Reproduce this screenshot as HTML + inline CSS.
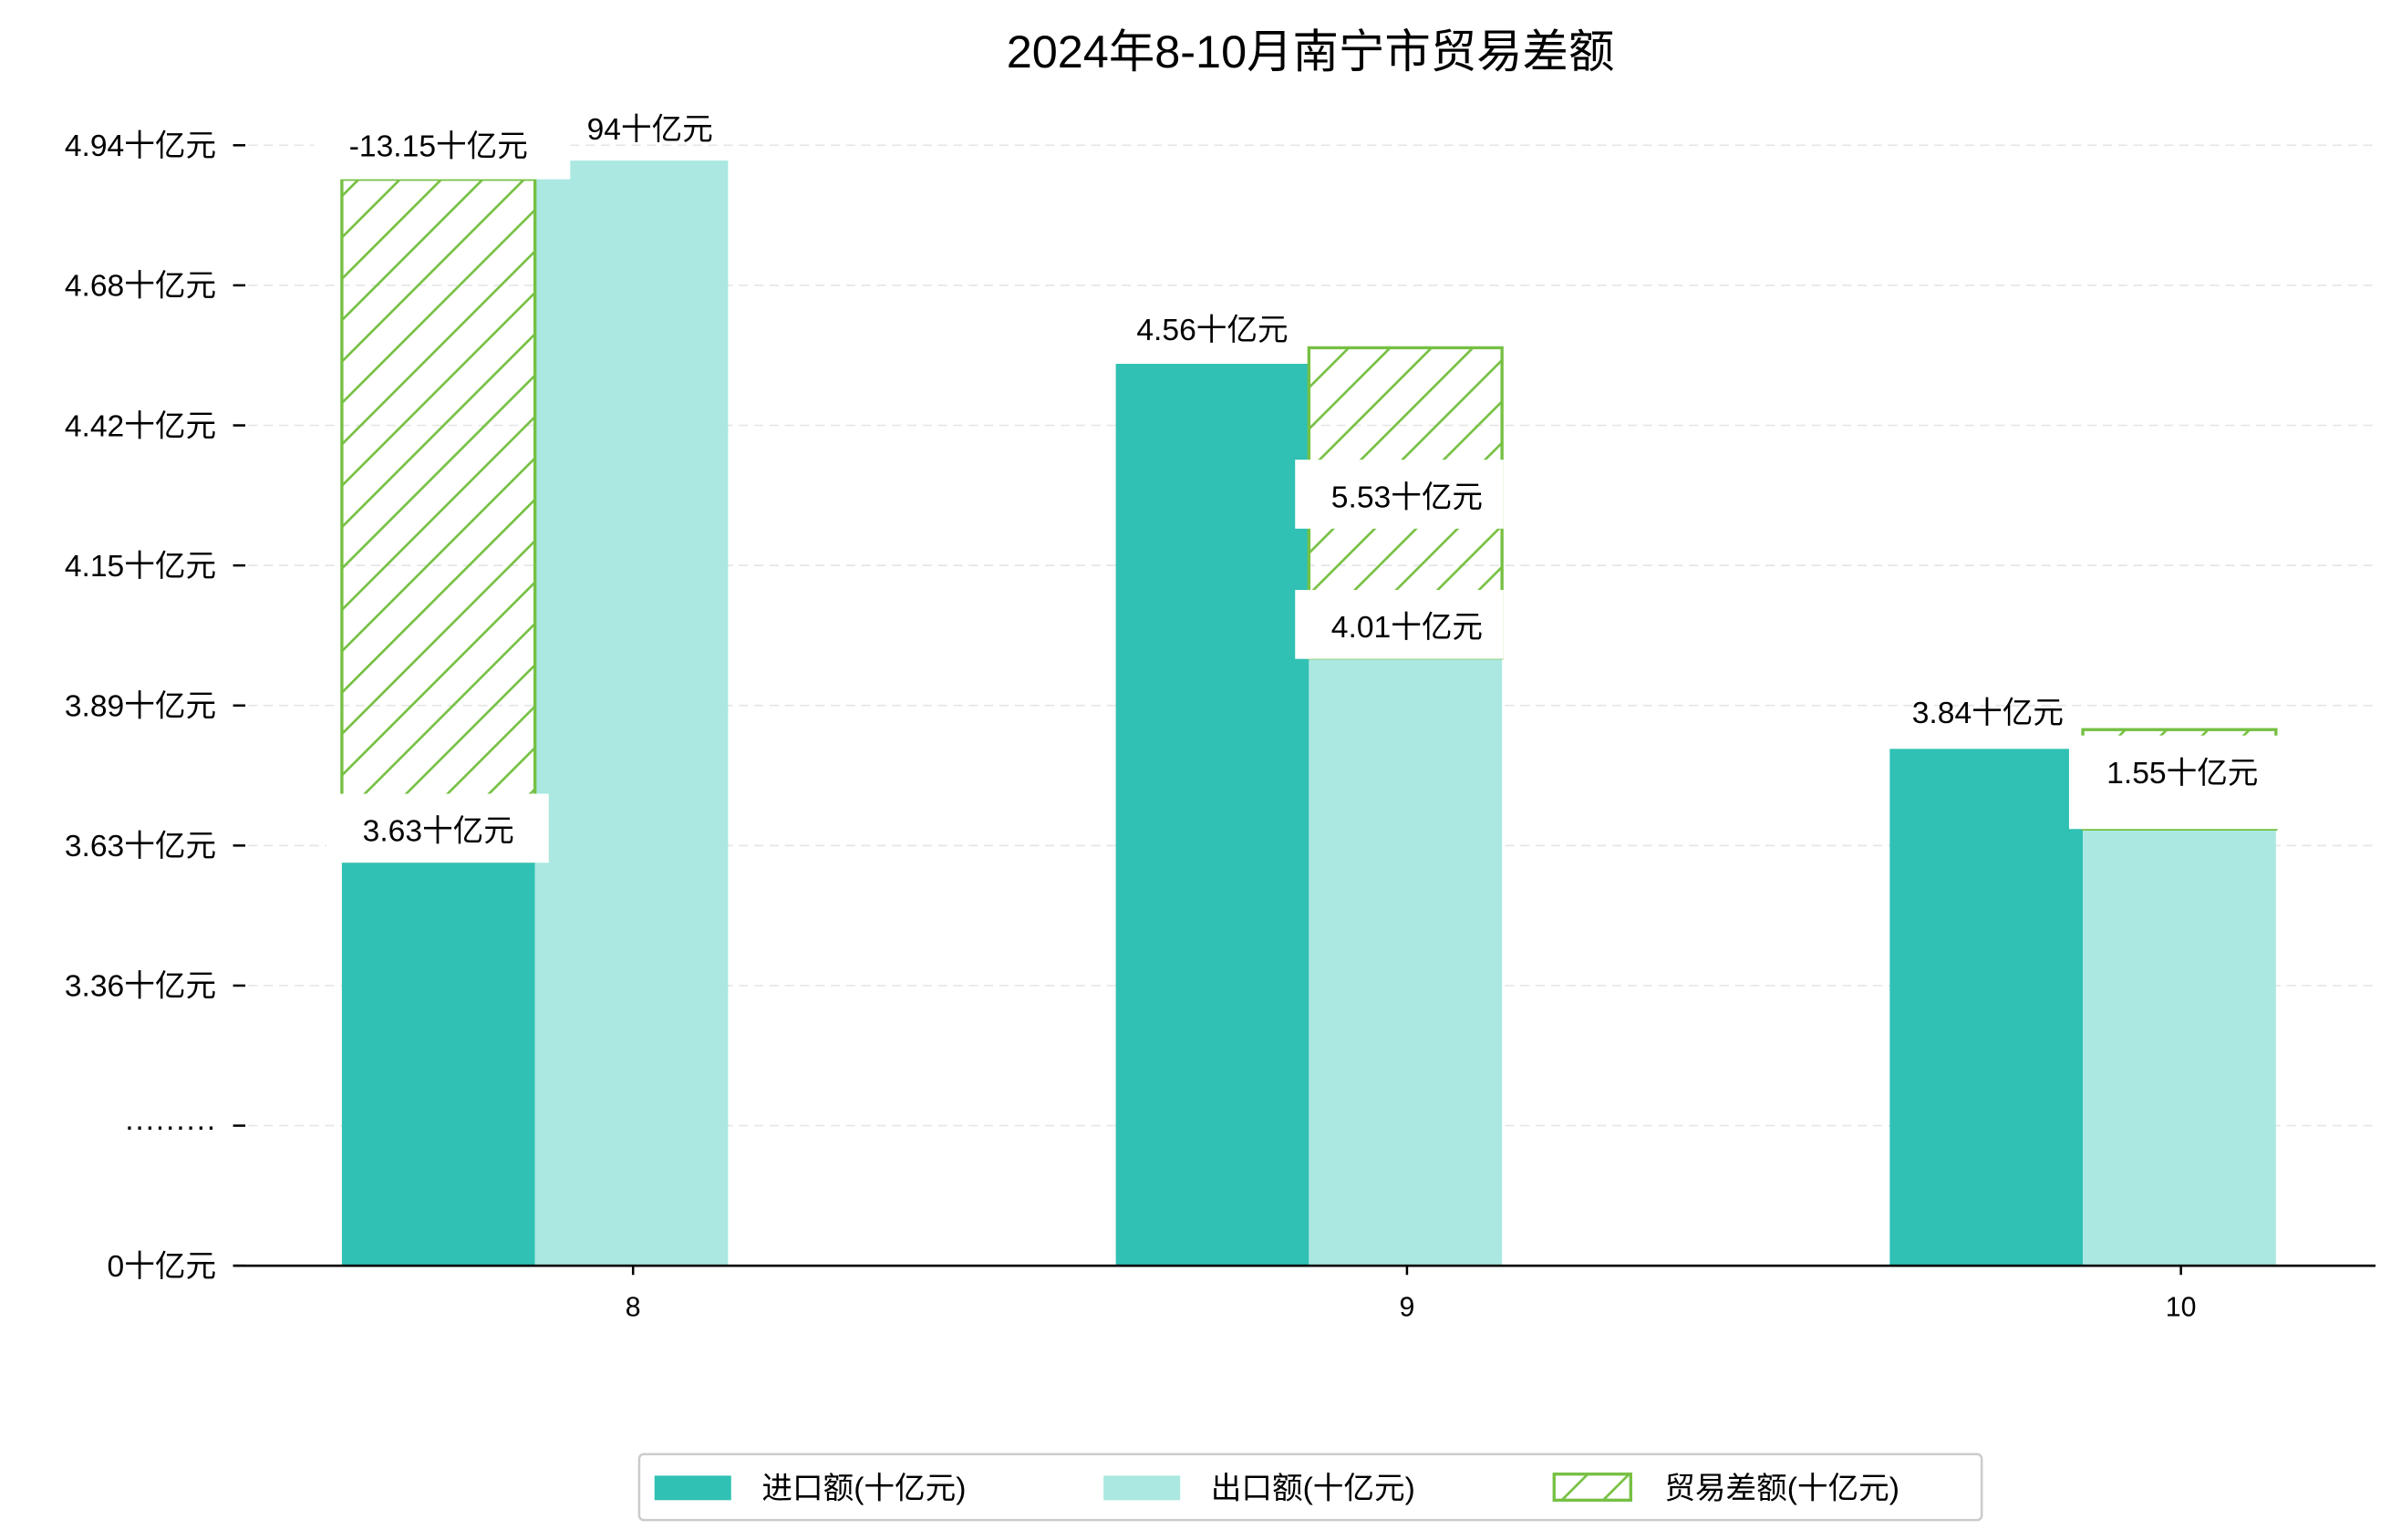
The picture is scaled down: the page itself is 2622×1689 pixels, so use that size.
<!DOCTYPE html>
<html><head><meta charset="utf-8"><style>
html,body{margin:0;padding:0;background:#fff}
svg{display:block}
text{font-family:"Liberation Sans","Noto Sans CJK SC",sans-serif;fill:#000}
</style></head><body>
<svg id="chart" width="2622" height="1689" viewBox="0 0 1560 1005" xmlns="http://www.w3.org/2000/svg">
<defs>
<pattern id="hatch" patternUnits="userSpaceOnUse" width="27" height="27">
<path d="M-3,3 L3,-3 M0,27 L27,0 M24,30 L30,24" stroke="#76c043" stroke-width="1.6"/>
</pattern>
</defs>
<text x="855" y="44" font-size="30" text-anchor="middle">2024年8-10月南宁市贸易差额</text>
<g id="grid"></g><g id="bars"></g><g id="labels"></g><g id="axes"></g>
<g>
<rect x="417" y="949" width="876" height="43" rx="3" fill="#fff" stroke="#ccc" stroke-width="1.5"/>
<rect x="427" y="963" width="50" height="16" fill="#30c0b4"/>
<text x="497" y="978" font-size="20">进口额(十亿元)</text>
<rect x="720" y="963" width="50" height="16" fill="#aae8e1"/>
<text x="790" y="978" font-size="20">出口额(十亿元)</text>
<rect x="1014" y="962" width="50" height="17" fill="url(#hatch)" stroke="#76c043" stroke-width="2"/>
<text x="1086" y="978" font-size="20">贸易差额(十亿元)</text>
</g>
</svg>
<script>
const categories = ["8", "9", "10"];
const importValues = [3.63, 4.56, 3.84];
const exportValues = [4.94, 4.01, 3.69];
const balanceTops = [4.905, 4.59, 3.876];
const balanceLabels = ["-13.15十亿元", "5.53十亿元", "1.55十亿元"];
const importLabels = ["3.63十亿元", "4.56十亿元", "3.84十亿元"];
const exportLabels = ["94十亿元", "4.01十亿元", "3.69十亿元"];
const tickLabels = ["0十亿元", "·········", "3.36十亿元", "3.63十亿元", "3.89十亿元", "4.15十亿元", "4.42十亿元", "4.68十亿元", "4.94十亿元"];

const NS = "http://www.w3.org/2000/svg";
const L = 152, R = 1550, BASE = 826;
function yv(v){ return 562 - (v - 3.63) * 349; }
function xc(i){ return 413 + i * 505; }
function tickY(i){ return 826 - i * 91.4; }
function mk(tag, attrs, parent, txt){
  const e = document.createElementNS(NS, tag);
  for (const k in attrs) e.setAttribute(k, attrs[k]);
  if (txt !== undefined) e.textContent = txt;
  document.getElementById(parent).appendChild(e);
  return e;
}
// grid & y ticks
tickLabels.forEach((t, i) => {
  const y = tickY(i);
  if (i > 0) {
    const g = mk("line", {x1:L, x2:R, y1:y, y2:y, stroke:"#e6e6e6", "stroke-width":1, "stroke-dasharray":"6,4"}, "grid");
    
    
  }
  const tk = mk("line", {x1:152, x2:160, y1:y, y2:y, stroke:"#000", "stroke-width":1.5}, "axes");
  
  
  const tl = mk("text", {x:141, y:y+7, "font-size":20, "text-anchor":"end"}, "axes", t);
  
  
});
const BW = 126;
categories.forEach((c, i) => {
  const cx = xc(i);
  const ix = cx - 190, ex = cx - 64;
  const ib = mk("rect", {x:ix, y:yv(importValues[i]), width:BW, height:BASE - yv(importValues[i]), fill:"#30c0b4"}, "bars");
  
  
  const eb = mk("rect", {x:ex, y:yv(exportValues[i]), width:BW, height:BASE - yv(exportValues[i]), fill:"#aae8e1"}, "bars");
  
  
  // balance hatch: slot of the lower bar, from lower value up to top
  const lowIsImport = importValues[i] < exportValues[i];
  const hx = lowIsImport ? ix : ex;
  const low = Math.min(importValues[i], exportValues[i]);
  const hb = mk("rect", {x:hx, y:yv(balanceTops[i]), width:BW, height:yv(low) - yv(balanceTops[i]), fill:"url(#hatch)", stroke:"#76c043", "stroke-width":2}, "bars");
  
  
  // x tick
  const xt = mk("line", {x1:cx, x2:cx, y1:BASE, y2:BASE + 6, stroke:"#000", "stroke-width":1.5}, "axes");
  
  
  const xl = mk("text", {x:cx, y:BASE + 33, "font-size":18, "text-anchor":"middle"}, "axes", c);
  
  
});
// value labels (positions follow reference layout)
function label(txt, cx, ty, box, name){
  if (box) {
    const b = mk("rect", {x:box[0], y:box[1], width:box[2], height:box[3], fill:"#fff"}, "labels");
    
    
  }
  const t = mk("text", {x:cx, y:ty, "font-size":20, "text-anchor":"middle"}, "labels", txt);
  
  
}
label(balanceLabels[0], 286, 102, [205, 80, 167, 37], "balance-label-8");
label(exportLabels[0], 424, 91, null, "export-label-8");
label(importLabels[0], 286, 549, [213, 518, 145, 45], "import-label-8");
label(importLabels[1], 791, 222, null, "import-label-9");
label(balanceLabels[1], 918, 331, [845, 300, 136, 45], "balance-label-9");
label(exportLabels[1], 918, 416, [845, 385, 136, 45], "export-label-9");
label(importLabels[2], 1297, 472, null, "import-label-10");
label(balanceLabels[2], 1424, 511, [1350, 480, 137, 61], "balance-label-10");
// x axis line
const ax = mk("line", {x1:L, x2:R, y1:BASE, y2:BASE, stroke:"#000", "stroke-width":1.6}, "axes");


</script>
</body></html>
